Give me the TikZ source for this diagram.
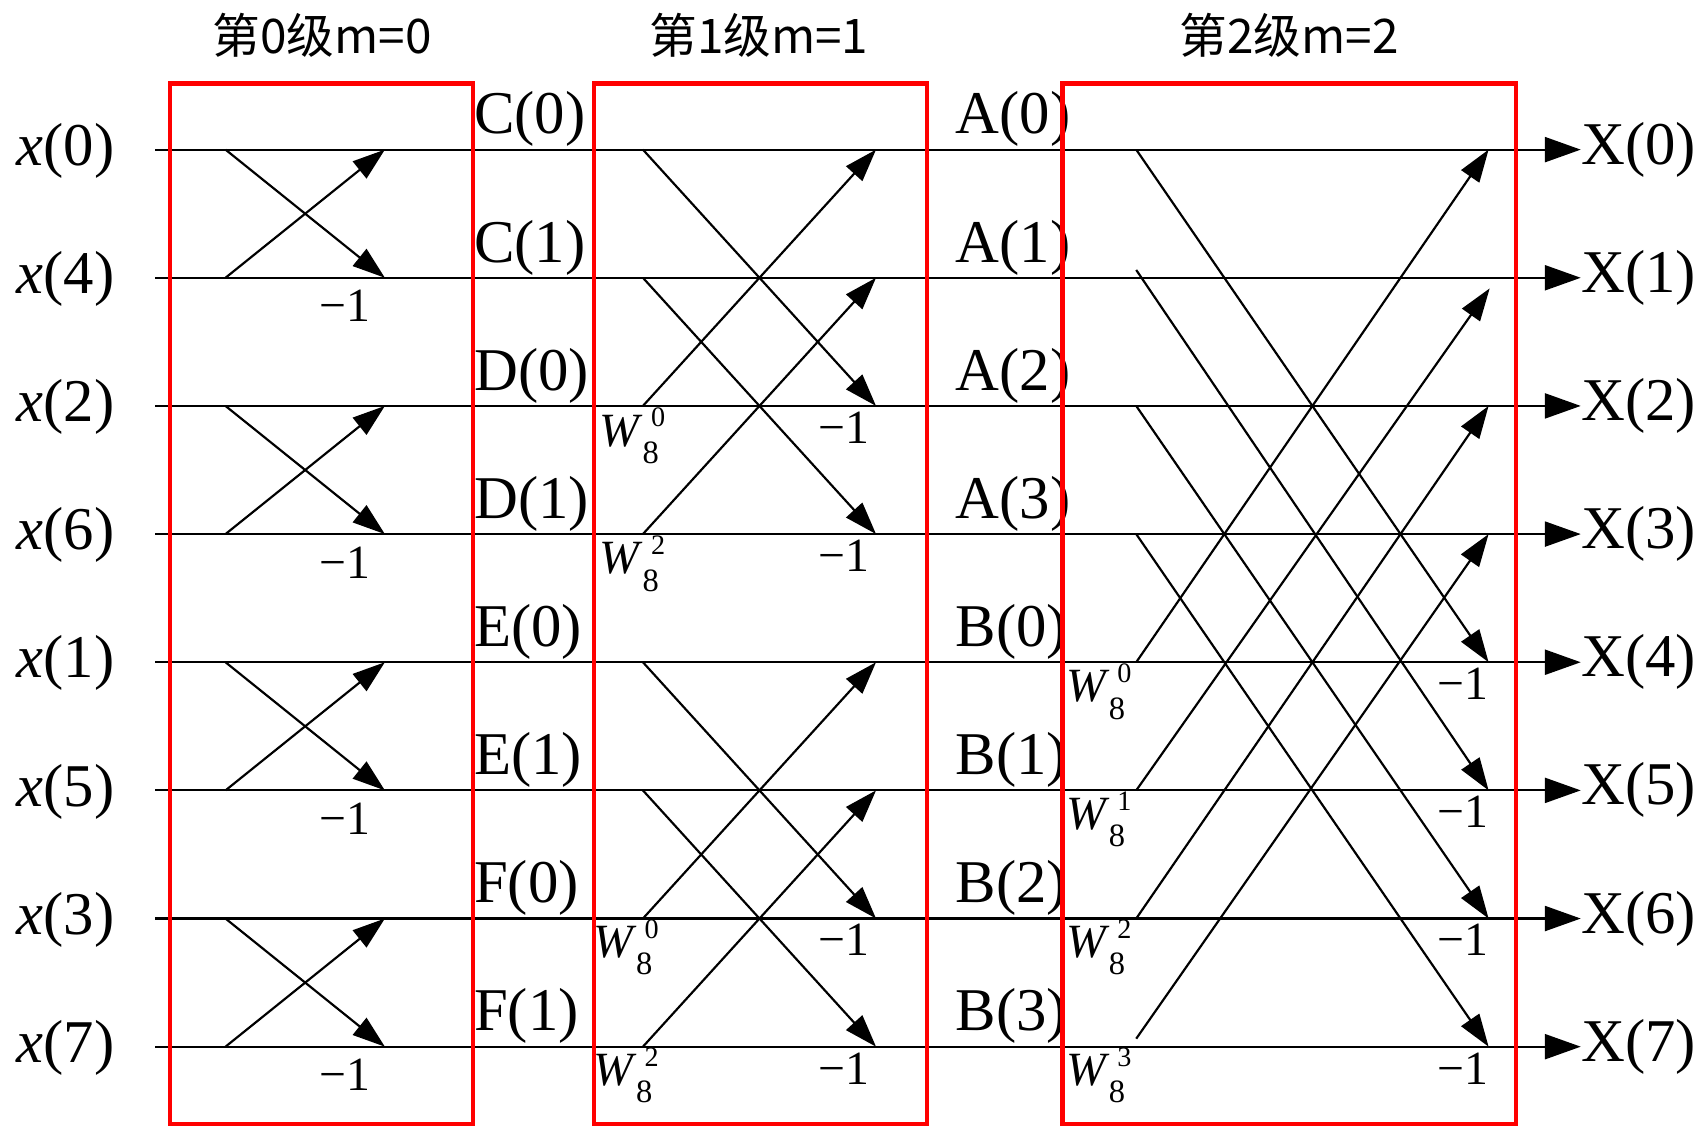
\documentclass[tikz,border=0pt]{standalone}
\usepackage{fontspec}
\setmainfont{Liberation Serif}
\newfontfamily\cjk{Noto Sans CJK SC}
\usetikzlibrary{arrows.meta}
\newcommand{\Wlab}[1]{\textit{W}\kern-0.3pt\raisebox{-0.36em}{\fontsize{15}{15}\selectfont 8}\kern-3.6pt\raisebox{0.40em}{\fontsize{13}{13}\selectfont #1}}
\begin{document}
\begin{tikzpicture}[x=0.5pt,y=-0.5pt,
  wire/.style={line width=1pt,black},
  bf/.style={line width=1pt,-{Triangle[length=15pt,width=10pt]}},
  outarr/.style={line width=1pt,-{Triangle[length=16.5pt,width=11.5pt]}},
  stagebox/.style={draw=red,line width=2pt},
  title/.style={font=\cjk\fontsize{22}{26}\selectfont,inner sep=0pt},
  iolab/.style={font=\fontsize{28}{31}\selectfont,inner sep=0pt},
  midlab/.style={font=\fontsize{28}{31}\selectfont,inner sep=0pt,anchor=west},
  neg/.style={font=\fontsize{22}{25}\selectfont,inner sep=0pt},
  wlab/.style={font=\fontsize{22}{25}\selectfont,inner sep=0pt,anchor=west}]
\useasboundingbox (0,0) rectangle (1568,1040);

% titles
\node[title] (t0) at (297,33) {第0级m=0};
\node[title] (t1) at (700,33) {第1级m=1};
\node[title] (t2) at (1189,33) {第2级m=2};

% input / output labels and wires
\foreach \n [count=\i from 0] in {0,4,2,6,1,5,3,7} {
  \pgfmathsetmacro\yy{138+118.2*\i}
  \node[iolab,anchor=east] (in\i) at (106,\yy+1) {\textit{x}(\n)};
  \coordinate (s\i) at (143,\yy);
  \node[iolab,anchor=west] (out\i) at (1458,\yy) {X(\i)};
  \draw[outarr] (s\i) -- (out\i.west);
  % butterfly end points
  \coordinate (a\i) at (208,\yy);
  \coordinate (c\i) at (355,\yy);
  \coordinate (d\i) at (593,\yy);
  \coordinate (e\i) at (808,\yy);
  \coordinate (f\i) at (1048,\yy);
  \coordinate (g\i) at (1373,\yy);
}
% irregular end points of stage 2
\coordinate (f1) at (1048,249);
\coordinate (f7) at (1048,958);
\coordinate (h1) at (1374,266);

% intermediate labels
\foreach \L/\k [count=\i from 0] in {C/0,C/1,D/0,D/1,E/0,E/1,F/0,F/1} {
  \pgfmathsetmacro\yy{110+118.2*\i}
  \node[midlab] (m\i) at (437,\yy) {\L(\k)};
}
\foreach \L/\k [count=\i from 0] in {A/0,A/1,A/2,A/3,B/0,B/1,B/2,B/3} {
  \pgfmathsetmacro\yy{110+118.2*\i}
  \node[midlab] (n\i) at (881,\yy) {\L(\k)};
}

% stage 0
\foreach \t/\b in {0/1,2/3,4/5,6/7} {
  \draw[bf] (a\t) -- (c\b);
  \draw[bf] (a\b) -- (c\t);
  \path (a\b) ++(110,26) node[neg] (ma\b) {−1};
}

% stage 1
\foreach \t/\b in {0/2,1/3,4/6,5/7} {
  \draw[bf] (d\t) -- (e\b);
  \draw[bf] (d\b) -- (e\t);
  \path (e\b) ++(-30,20) node[neg] (mb\b) {−1};
}
\node[wlab] (w2) at (553,402) {\Wlab{0}};
\node[wlab] (w3) at (553,520) {\Wlab{2}};
\node[wlab] (w6) at (547,874) {\Wlab{0}};
\node[wlab] (w7) at (547,992) {\Wlab{2}};

% stage 2
\draw[bf] (f0) -- (g4);
\draw[bf] (f1) -- (g5);
\draw[bf] (f2) -- (g6);
\draw[bf] (f3) -- (g7);
\draw[bf] (f4) -- (g0);
\draw[bf] (f5) -- (h1);
\draw[bf] (f6) -- (g2);
\draw[bf] (f7) -- (g3);
\foreach \b in {4,5,6,7} {
  \path (g\b) ++(-24,20) node[neg] (mc\b) {−1};
}
\node[wlab] (v4) at (983,638) {\Wlab{0}};
\node[wlab] (v5) at (983,756) {\Wlab{1}};
\node[wlab] (v6) at (983,874) {\Wlab{2}};
\node[wlab] (v7) at (983,992) {\Wlab{3}};

% stage boxes
\draw[stagebox] (157,77) rectangle (436,1037);
\draw[stagebox] (548,77) rectangle (855,1037);
\draw[stagebox] (980,77) rectangle (1398,1037);
\end{tikzpicture}
\end{document}
